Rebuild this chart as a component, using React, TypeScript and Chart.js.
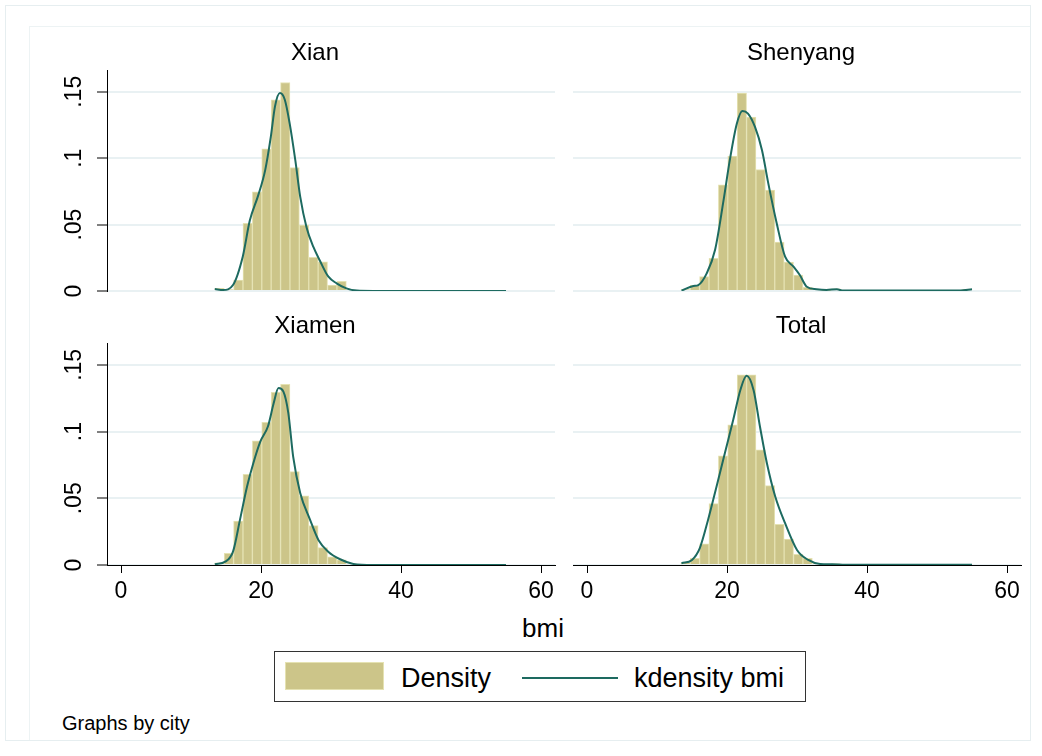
import React, { useEffect, useRef } from 'react';
import { Chart, registerables } from 'chart.js';

Chart.register(...registerables);

// ---------------- data ----------------
const BIN_START = 13.4;
const BIN_WIDTH = 1.342;

const XIAN_DENSITY = [0.002, 0.001, 0.0083, 0.051, 0.0747, 0.107, 0.144, 0.157, 0.093, 0.0496, 0.0253, 0.022, 0.0045, 0.0072, 0, 0, 0, 0, 0, 0, 0, 0, 0, 0, 0, 0, 0, 0, 0, 0, 0];
const SHENYANG_DENSITY = [0.001, 0.0042, 0.0108, 0.0246, 0.08, 0.1015, 0.149, 0.131, 0.0915, 0.076, 0.0368, 0.0218, 0.012, 0.0028, 0.0013, 0.0005, 0.0017, 0, 0, 0, 0, 0, 0, 0, 0, 0, 0, 0, 0, 0, 0.0013];
const XIAMEN_DENSITY = [0.0017, 0.0088, 0.033, 0.068, 0.093, 0.107, 0.1295, 0.1355, 0.07, 0.0518, 0.0295, 0.013, 0.0062, 0.0038, 0, 0, 0, 0, 0, 0, 0, 0, 0, 0, 0, 0, 0, 0, 0, 0, 0];
const TOTAL_DENSITY = [0.0017, 0.005, 0.0158, 0.046, 0.0818, 0.105, 0.1425, 0.1425, 0.0863, 0.0595, 0.0305, 0.0195, 0.008, 0.005, 0.001, 0.0005, 0.0008, 0, 0, 0, 0, 0, 0, 0, 0, 0, 0, 0, 0, 0, 0.0005];

const XIAN_KX = [13.4, 14.6, 16.0, 17.4, 18.4, 19.6, 20.6, 21.4, 22.0, 22.7, 23.4, 24.1, 24.9, 25.6, 26.5, 27.5, 28.4, 29.6, 30.8, 32.2, 33.7, 36, 55];
const XIAN_KY = [0.0015, 0.0008, 0.0045, 0.026, 0.053, 0.072, 0.091, 0.116, 0.139, 0.149, 0.144, 0.126, 0.0985, 0.071, 0.048, 0.033, 0.023, 0.011, 0.0058, 0.002, 0.0003, 0, 0];

const SHENYANG_KX = [13.5, 15.2, 15.9, 17.1, 18.3, 19.5, 20.4, 21.4, 22.2, 23.0, 24.0, 25.0, 25.9, 27.1, 28.3, 29.5, 30.4, 31.4, 32.8, 34.2, 35.7, 36.6, 53.3, 55.0];
const SHENYANG_KY = [0.0003, 0.0038, 0.0045, 0.0133, 0.031, 0.068, 0.0985, 0.126, 0.1356, 0.1336, 0.1235, 0.106, 0.081, 0.051, 0.0258, 0.0183, 0.012, 0.0032, 0.0013, 0.0008, 0.0013, 0.0003, 0.0003, 0.0013];

const XIAMEN_KX = [13.4, 14.9, 16.0, 17.0, 18.0, 18.9, 19.9, 21.0, 21.8, 22.5, 23.2, 23.9, 24.6, 25.6, 27.0, 28.2, 29.6, 31.3, 33.2, 36, 55];
const XIAMEN_KY = [0.0005, 0.0025, 0.01, 0.034, 0.0587, 0.0763, 0.0925, 0.104, 0.121, 0.1326, 0.13, 0.114, 0.081, 0.054, 0.034, 0.0188, 0.01, 0.0043, 0.0008, 0, 0];

const TOTAL_KX = [13.5, 15.0, 16.1, 17.3, 18.5, 19.7, 20.9, 21.9, 22.8, 23.8, 24.7, 25.7, 26.9, 28.3, 30.0, 31.6, 33.3, 35.0, 37, 55];
const TOTAL_KY = [0.0013, 0.0038, 0.0125, 0.034, 0.0587, 0.084, 0.109, 0.131, 0.1418, 0.131, 0.104, 0.0763, 0.0512, 0.0313, 0.0113, 0.0038, 0.0008, 0.0006, 0.0001, 0.0001];

const X_TICKS = [0, 20, 40, 60];
const Y_TICKS = [0, 0.05, 0.1, 0.15];
const Y_TICK_LABELS = ['0', '.05', '.1', '.15'];
const X_MIN = -2;
const X_MAX = 62;
const Y_MIN = 0;
const Y_MAX = 0.1664;

// ---------------- style ----------------
const FONT = '"Liberation Sans", Arial, Helvetica, sans-serif';
const BAR_FILL = 'rgb(204,197,137)';
const BAR_EDGE = 'rgb(229,226,178)';
const LINE_COLOR = '#1d6a60';
const GRID_COLOR = '#e9f1f3';
const TICK_FONT_SIZE = 23;
const Y_LABEL_BASELINE_X = 81;

type PanelProps = {
  left: number; top: number; width: number; height: number;
  yAxisWidth: number; padRight: number; padTop: number; padBottom: number;
  showX: boolean; showYAxis: boolean;
  density: number[]; kx: number[]; ky: number[];
};

function Panel(p: PanelProps) {
  const ref = useRef<HTMLCanvasElement | null>(null);
  useEffect(() => {
    if (!ref.current) return;
    const centers = p.density.map((_, i) => BIN_START + BIN_WIDTH * (i + 0.5));
    const yLabelPlugin = {
      id: 'yRotLabels',
      afterDraw(chart: any) {
        if (!p.showYAxis) return;
        const ys = chart.scales.y;
        const ctx = chart.ctx;
        ctx.save();
        ctx.fillStyle = '#000';
        ctx.font = `${TICK_FONT_SIZE}px ${FONT}`;
        ctx.textAlign = 'center';
        ctx.textBaseline = 'alphabetic';
        ys.ticks.forEach((t: any, i: number) => {
          const py = ys.getPixelForValue(t.value);
          ctx.save();
          ctx.translate(Y_LABEL_BASELINE_X - p.left, py);
          ctx.rotate(-Math.PI / 2);
          ctx.fillText(Y_TICK_LABELS[i], 0, 0);
          ctx.restore();
        });
        ctx.restore();
      },
    };
    const chart = new Chart(ref.current, {
      type: 'bar',
      data: {
        datasets: [
          {
            type: 'line',
            data: p.kx.map((x, i) => ({ x, y: p.ky[i] })),
            borderColor: LINE_COLOR,
            borderWidth: 2,
            pointRadius: 0,
            cubicInterpolationMode: 'monotone',
            fill: false,
            order: 0,
          } as any,
          {
            type: 'bar',
            data: centers.map((x, i) => ({ x, y: p.density[i] })),
            backgroundColor: BAR_FILL,
            borderColor: BAR_EDGE,
            borderWidth: 1,
            barPercentage: 1,
            categoryPercentage: 1,
            order: 1,
          } as any,
        ],
      },
      options: {
        responsive: false,
        animation: false,
        devicePixelRatio: 1,
        layout: { padding: { left: 0, right: p.padRight, top: p.padTop, bottom: p.padBottom } },
        plugins: { legend: { display: false }, tooltip: { enabled: false }, title: { display: false } },
        scales: {
          x: {
            type: 'linear',
            min: X_MIN,
            max: X_MAX,
            offset: false,
            display: p.showX,
            afterBuildTicks: (s: any) => { s.ticks = X_TICKS.map((v) => ({ value: v })); },
            afterFit: (s: any) => { s.height = p.showX ? 48 : 0; },
            ticks: { color: '#000', font: { family: FONT, size: TICK_FONT_SIZE }, padding: 5, maxRotation: 0, autoSkip: false },
            grid: { drawOnChartArea: false, drawTicks: true, tickLength: 8, tickColor: '#000', tickWidth: 1, offset: false },
            border: { display: true, color: '#000', width: 1 },
          },
          y: {
            type: 'linear',
            min: Y_MIN,
            max: Y_MAX,
            afterBuildTicks: (s: any) => { s.ticks = Y_TICKS.map((v) => ({ value: v })); },
            afterFit: (s: any) => { s.width = p.yAxisWidth; },
            ticks: { display: false },
            grid: { color: GRID_COLOR, lineWidth: 2, drawTicks: p.showYAxis, tickLength: 10, tickColor: '#000', tickWidth: 1 },
            border: { display: p.showYAxis, color: '#000', width: 1 },
          },
        },
      } as any,
      plugins: [yLabelPlugin],
    });
    return () => chart.destroy();
  }, []);
  return (
    <canvas
      ref={ref}
      width={p.width}
      height={p.height}
      style={{ position: 'absolute', left: p.left, top: p.top, width: p.width, height: p.height }}
    />
  );
}

function Text(props: { x: number; baseline: number; size: number; text: string; align?: 'left' | 'center' }) {
  const { x, baseline, size, text, align = 'left' } = props;
  const top = baseline - 0.8465 * size;
  const style: React.CSSProperties = {
    position: 'absolute',
    top,
    fontFamily: FONT,
    fontSize: size,
    lineHeight: `${size}px`,
    color: '#000',
    whiteSpace: 'nowrap',
  };
  if (align === 'center') {
    style.left = x - 300;
    style.width = 600;
    style.textAlign = 'center';
  } else {
    style.left = x;
  }
  return <div style={style}>{text}</div>;
}

const LEFT = { left: 30, width: 530, yAxisWidth: 77, padRight: 5 };
const RIGHT = { left: 560, width: 470, yAxisWidth: 13, padRight: 9 };
const TOP = { top: 60, height: 240, padTop: 10, padBottom: 9, showX: false };
const BOTTOM = { top: 333, height: 280, padTop: 10, padBottom: 0, showX: true };

export default function App() {
  return (
    <div style={{ position: 'absolute', left: 0, top: 0, width: 1042, height: 756, background: '#fff', overflow: 'hidden' }}>
      <div style={{ position: 'absolute', left: 5, top: 5, width: 1024, height: 734, border: '1px solid #e6eef0' }} />
      <div style={{ position: 'absolute', left: 29, top: 26, width: 1000, height: 713, borderLeft: '1px solid #edf3f4', borderTop: '1px solid #edf3f4' }} />

      <Panel {...LEFT} {...TOP} showYAxis={true} density={XIAN_DENSITY} kx={XIAN_KX} ky={XIAN_KY} />
      <Panel {...RIGHT} {...TOP} showYAxis={false} density={SHENYANG_DENSITY} kx={SHENYANG_KX} ky={SHENYANG_KY} />
      <Panel {...LEFT} {...BOTTOM} showYAxis={true} density={XIAMEN_DENSITY} kx={XIAMEN_KX} ky={XIAMEN_KY} />
      <Panel {...RIGHT} {...BOTTOM} showYAxis={false} density={TOTAL_DENSITY} kx={TOTAL_KX} ky={TOTAL_KY} />

      <Text x={315} baseline={60} size={24} text="Xian" align="center" />
      <Text x={801} baseline={60} size={24} text="Shenyang" align="center" />
      <Text x={315} baseline={333} size={24} text="Xiamen" align="center" />
      <Text x={801} baseline={333} size={24} text="Total" align="center" />

      <Text x={543} baseline={637} size={26} text="bmi" align="center" />

      <div style={{ position: 'absolute', left: 274, top: 651, width: 530, height: 49, border: '1px solid #333' }} />
      <div style={{ position: 'absolute', left: 285, top: 662, width: 97, height: 26, background: BAR_FILL, border: `1px solid ${BAR_EDGE}` }} />
      <Text x={401} baseline={688} size={27} text="Density" />
      <div style={{ position: 'absolute', left: 522, top: 677, width: 96, height: 2, background: LINE_COLOR }} />
      <Text x={634} baseline={688} size={27} text="kdensity bmi" />

      <Text x={62} baseline={730} size={20} text="Graphs by city" />
    </div>
  );
}
